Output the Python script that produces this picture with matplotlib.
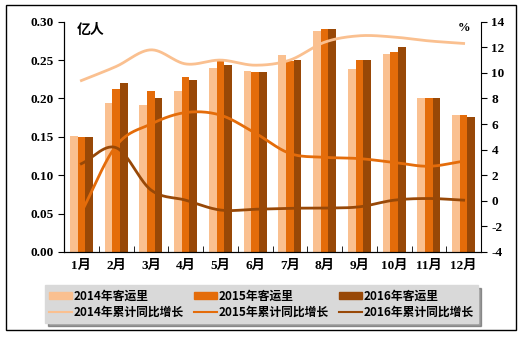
import numpy as np
import matplotlib
matplotlib.use('Agg')
import matplotlib.pyplot as plt
import matplotlib.patches as mpatches
from matplotlib.lines import Line2D

plt.rcParams['font.family'] = ['Liberation Serif', 'Noto Sans CJK SC']

# 月度客运量(亿人)与累计同比增长(%)
months = ['1月', '2月', '3月', '4月', '5月', '6月', '7月', '8月', '9月', '10月', '11月', '12月']
vol_2014 = [0.151, 0.194, 0.191, 0.210, 0.240, 0.236, 0.257, 0.288, 0.238, 0.258, 0.200, 0.179]
vol_2015 = [0.150, 0.212, 0.210, 0.228, 0.249, 0.235, 0.249, 0.290, 0.250, 0.260, 0.200, 0.179]
vol_2016 = [0.150, 0.220, 0.200, 0.224, 0.244, 0.235, 0.250, 0.290, 0.250, 0.267, 0.201, 0.176]
grow_2014 = [9.4, 10.5, 11.8, 10.7, 11.0, 10.6, 11.0, 12.4, 12.9, 12.8, 12.5, 12.3]
grow_2015 = [-0.9, 4.3, 6.0, 6.9, 6.7, 5.3, 3.7, 3.4, 3.3, 3.0, 2.7, 3.1]
grow_2016 = [2.9, 4.15, 0.85, 0.05, -0.72, -0.66, -0.58, -0.57, -0.47, 0.05, 0.18, 0.05]

c14, c15, c16 = '#FAC090', '#E46C0A', '#984807'


def smooth(x, y, n=30):
    # Catmull-Rom 平滑曲线
    x = np.asarray(x, float)
    y = np.asarray(y, float)
    px = np.concatenate([[2 * x[0] - x[1]], x, [2 * x[-1] - x[-2]]])
    py = np.concatenate([[2 * y[0] - y[1]], y, [2 * y[-1] - y[-2]]])
    xs, ys = [], []
    t = np.linspace(0, 1, n)
    for i in range(1, len(px) - 2):
        for p, out in ((px, xs), (py, ys)):
            p0, p1, p2, p3 = p[i - 1], p[i], p[i + 1], p[i + 2]
            out.extend(0.5 * (2 * p1 + (-p0 + p2) * t
                              + (2 * p0 - 5 * p1 + 4 * p2 - p3) * t ** 2
                              + (-p0 + 3 * p1 - 3 * p2 + p3) * t ** 3))
    return np.array(xs), np.array(ys)


fig = plt.figure(figsize=(5.23, 3.45), dpi=100)
ax = fig.add_axes([0.1224, 0.2696, 0.7973, 0.6675])
x = np.arange(len(months))
w = 0.22
ax.bar(x - w, vol_2014, w, color=c14, zorder=2)
ax.bar(x, vol_2015, w, color=c15, zorder=2)
ax.bar(x + w, vol_2016, w, color=c16, zorder=2)
ax.set_xlim(-0.5, 11.5)
ax.set_ylim(0, 0.30)
ax.set_yticks(np.arange(0, 0.301, 0.05))
ax.set_yticklabels(['%.2f' % v for v in np.arange(0, 0.301, 0.05)],
                   fontsize=9.5, fontweight='bold')
ax.set_xticks(x)
ax.set_xticklabels(months, fontsize=9.5, fontweight='bold')
ax.set_xticks(np.arange(-0.5, 12, 1), minor=True)
ax.tick_params(axis='x', which='major', length=0, pad=6)
ax.tick_params(axis='x', which='minor', direction='in', length=4)
ax.tick_params(axis='y', direction='out', length=4)
ax.spines['top'].set_visible(False)
ax.spines['right'].set_visible(False)
ax.text(0.03, 0.995, '亿人', transform=ax.transAxes, fontsize=10, fontweight='bold',
        va='top', family=['Noto Sans CJK SC'])

ax2 = ax.twinx()
for g, c in ((grow_2014, c14), (grow_2015, c15), (grow_2016, c16)):
    sx, sy = smooth(x, g)
    ax2.plot(sx, sy, color=c, lw=2, zorder=3)
ax2.set_ylim(-4, 14)
ax2.set_yticks(np.arange(-4, 15, 2))
ax2.set_yticklabels([str(v) for v in range(-4, 15, 2)], fontsize=9.5, fontweight='bold')
ax2.tick_params(axis='y', direction='out', length=4)
ax2.spines['top'].set_visible(False)
ax2.text(0.975, 1.0, '%', transform=ax2.transAxes, fontsize=9, fontweight='bold',
         ha='right', va='top')

# 图例按列填充，所以柱和线交替排列
handles = [mpatches.Patch(color=c14, label='2014年客运里'),
           Line2D([], [], color=c14, lw=1.5, label='2014年累计同比增长'),
           mpatches.Patch(color=c15, label='2015年客运里'),
           Line2D([], [], color=c15, lw=1.5, label='2015年累计同比增长'),
           mpatches.Patch(color=c16, label='2016年客运里'),
           Line2D([], [], color=c16, lw=1.5, label='2016年累计同比增长')]
leg = fig.legend(handles=handles, ncol=3, loc='center', bbox_to_anchor=(0.5, 0.118),
                 frameon=True, fancybox=False, shadow=True, facecolor='#D9D9D9',
                 edgecolor='#D9D9D9', handlelength=1.9, handleheight=0.5,
                 columnspacing=0.9, handletextpad=0.15, labelspacing=0.3,
                 borderpad=0.35, prop={'family': ['Noto Sans CJK SC'], 'weight': 'bold', 'size': 8.5})

fig.patches.append(mpatches.Rectangle((0.011, 0.043), 0.976, 0.942, transform=fig.transFigure,
                                      fill=False, edgecolor='black', lw=1))
fig.savefig('out.png', dpi=100)
